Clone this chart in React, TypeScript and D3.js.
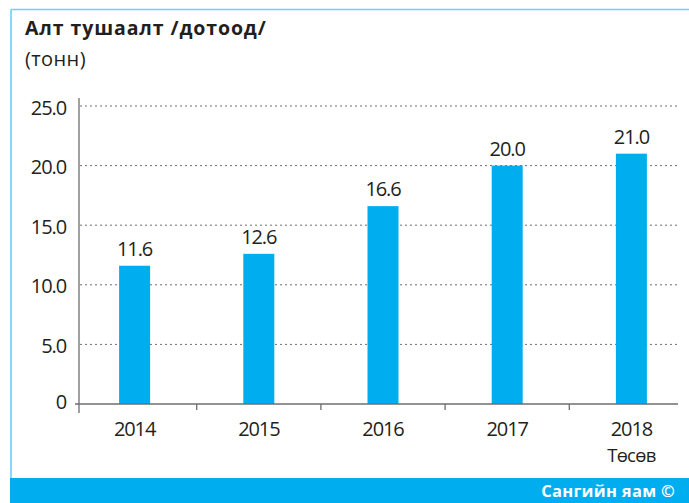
import React from "react";
import * as d3 from "d3";

const categories = ["2014", "2015", "2016", "2017", "2018"];
const subLabels = ["", "", "", "", "Төсөв"];
const values = [11.6, 12.6, 16.6, 20.0, 21.0];
const yTicks = [0, 5, 10, 15, 20, 25];
const title = "Алт тушаалт /дотоод/";
const unit = "(тонн)";
const source = "Сангийн яам ©";

const W = 689;
const H = 503;
const FONT = "'Open Sans', 'Noto Sans', sans-serif";

export default function App() {
  const x = d3.scaleBand<string>().domain(categories).range([72.5, 693.5]).paddingInner(0).paddingOuter(0);
  const y = d3.scaleLinear().domain([0, 25]).range([404, 106]);
  const barW = 31;
  const ink = "#231f20";
  const axis = "#6d6e71";

  return (
    <svg width={W} height={H} style={{ position: "absolute", left: 0, top: 0, background: "#fff" }}>
      {/* frame */}
      <line x1={11} y1={9.5} x2={W} y2={9.5} stroke="#6dcff6" strokeWidth={1.6} />
      <line x1={11} y1={9.5} x2={11} y2={478} stroke="#6dcff6" strokeWidth={1.6} />
      <rect x={10} y={478} width={W - 10} height={H - 478} fill="#00aeef" />
      <text x={675} y={497} textAnchor="end" fill="#fff" fontFamily={FONT} fontWeight={700} fontSize={16.5} letterSpacing={0.3}>
        {source}
      </text>

      <text x={25} y={35} fill={ink} fontFamily={FONT} fontWeight={700} fontSize={19.5} letterSpacing={0.9}>{title}</text>
      <text x={25} y={66} fill={ink} fontFamily={FONT} fontSize={20} letterSpacing={0.4}>{unit}</text>

      {/* grid */}
      {yTicks.filter(t => t > 0).map(t => (
        <line key={"g" + t} x1={80} x2={678} y1={y(t)} y2={y(t)} stroke={axis} strokeWidth={1} strokeDasharray="2,3" />
      ))}
      {/* y labels */}
      {yTicks.map(t => (
        <text key={"y" + t} x={66} y={y(t) + (t === 0 ? 4.5 : 8.5)} textAnchor="end" fill={ink} fontFamily={FONT} fontSize={20} letterSpacing={-1.1}>
          {t === 0 ? "0" : d3.format(".1f")(t)}
        </text>
      ))}

      {/* bars */}
      {categories.map((c, i) => {
        const cx = (x(c) as number) + x.bandwidth() / 2;
        return (
          <g key={c}>
            <rect x={cx - barW / 2} y={y(values[i])} width={barW} height={404 - y(values[i])} fill="#00aeef" />
            <text x={cx} y={y(values[i]) - 10} textAnchor="middle" fill={ink} fontFamily={FONT} fontSize={20} letterSpacing={-1.1}>
              {d3.format(".1f")(values[i])}
            </text>
            <text x={cx} y={436} textAnchor="middle" fill={ink} fontFamily={FONT} fontSize={20} letterSpacing={-1.1}>{c}</text>
            {subLabels[i] && (
              <text x={cx} y={462} textAnchor="middle" fill={ink} fontFamily={FONT} fontSize={18.5} letterSpacing={-0.7}>{subLabels[i]}</text>
            )}
          </g>
        );
      })}

      {/* axes */}
      <line x1={79} x2={79} y1={98} y2={413} stroke={axis} strokeWidth={1.3} />
      <line x1={75} x2={678} y1={404} y2={404} stroke={axis} strokeWidth={1.3} />
      {categories.slice(1).map(c => (
        <line key={"t" + c} x1={x(c) as number} x2={x(c) as number} y1={404} y2={410} stroke={axis} strokeWidth={1.3} />
      ))}
    </svg>
  );
}
